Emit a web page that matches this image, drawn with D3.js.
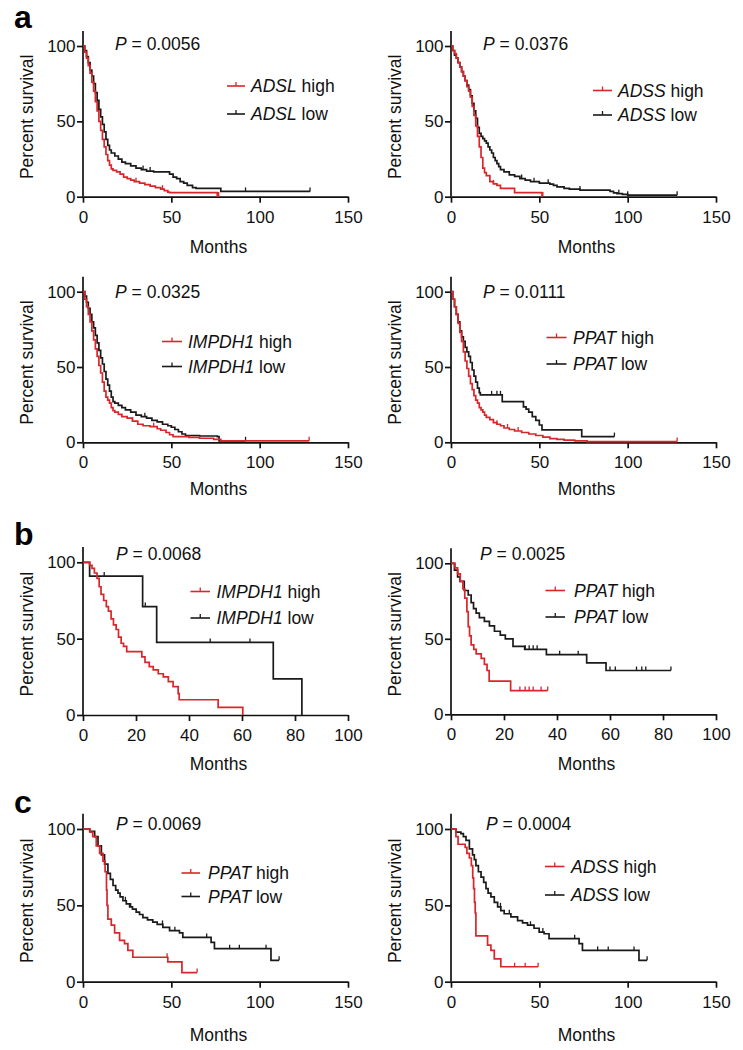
<!DOCTYPE html>
<html>
<head>
<meta charset="utf-8">
<script src="https://cdn.jsdelivr.net/npm/d3@7"></script>
<style>
  html, body { margin: 0; padding: 0; background: #fff; }
  svg { display: block; font-family: "Liberation Sans", Arial, sans-serif; }
</style>
</head>
<body>
<svg id="chart" width="743" height="1050"></svg>
<script>
// ---------------- DATA ----------------
const ticks150 = [0, 50, 100, 150];
const ticks100 = [0, 20, 40, 60, 80, 100];
const pctTicks = [0, 50, 100];
const pValues = ["0.0056", "0.0376", "0.0325", "0.0111", "0.0068", "0.0025", "0.0069", "0.0004"];
const genes = ["ADSL", "ADSS", "IMPDH1", "PPAT", "IMPDH1", "PPAT", "PPAT", "ADSS"];
const panelLetters = ["a", "b", "c"];

// Kaplan-Meier step points [month, percent survival]; last point = end of follow-up
const adslHigh = [[0,100],[1,96],[2,92],[3,87],[4,82],[5,76],[6,70],[7,63],[8,57],[9,50],[10,44],[11,38],[12,33],[13,28],[14,24],[15,21],[16,18.5],[17,17.5],[19,16.5],[21,15],[23,13],[25,12],[27,11],[29,10],[32,9],[35,8],[38,7],[41,6],[44,5],[46,4],[48,3],[49,2.7],[76,0.4],[76.8,0.4]];
const adslLow = [[0,100],[1,97],[2,93],[3,89],[4,84],[5,80],[6,75],[7,69],[8,64],[9,58],[10,53],[11,48],[12,43],[13,38],[14,34],[15,31],[16,29],[18,27],[20,25],[22,23],[24,22],[27,20.5],[30,19],[33,18],[36,17],[40,16.5],[49,15],[51,13],[53,12],[55,10],[57,9],[59,7.5],[62,6],[64,5.5],[78,3.5],[128.5,3.5]];
const adssHigh = [[0,100],[1,97],[2,95],[3,92],[4,89],[5,86],[6,83],[7,80],[8,77],[9,73],[10,70],[11,66],[12,60],[13,54],[14,47],[15,40],[16,33],[17,26],[18,19],[19,16],[20,14],[22,10],[24,8.5],[26,7.5],[28,5.5],[36,2.7],[51.5,0.5],[52,0.5]];
const adssLow = [[0,100],[1,97],[2,94],[3,92],[4,89],[5,86],[6,83],[7,80],[8,77],[9,74],[10,71],[11,67],[12,62],[13,57],[14,52],[15,46],[16,42],[17,40],[18,38.5],[19,37],[20,35.5],[21,33],[22,31],[23,29],[24,26],[25,24],[26,22],[27,20],[28,18],[30,16.5],[33,14.5],[36,13.5],[39,12],[42,11],[45,10],[50,9],[56,8.4],[58,7.5],[60,6.5],[64,5.5],[67,5],[73,4.4],[90,3.5],[92,2.5],[94,2],[97,1.5],[100,1],[128,1]];
const impdhHighA = [[0,100],[1,95],[2,90],[3,85],[4,80],[5,74],[6,68],[7,62],[8,57],[9,51],[10,46],[11,40],[12,34],[13,30],[14,28],[15,26],[16,23],[17,21],[18,20],[20,18.5],[22,17],[25,16],[28,14],[31,12],[34,11],[38,10.4],[42,9],[44,8],[47,6.5],[49,5],[51,3.8],[60,3.3],[66,2.7],[74,2],[78,1],[128,1]];
const impdhLowA = [[0,100],[1,97],[2,93],[3,89],[4,85],[5,80],[6,76],[7,71],[8,66],[9,61],[10,56],[11,52],[12,47],[13,42],[14,38],[15,34],[16,30],[17,27],[18,26],[20,24.5],[22,23],[24,21.5],[27,20],[30,18],[33,17],[36,16],[39,14.5],[42,13.5],[45,12],[48,11],[50,10],[52,8.5],[54,7],[56,5.5],[58,4.5],[66,4.2],[76,3.8],[77,1],[92,1]];
const ppatHighA = [[0,100],[1,95],[2,90],[3,85],[4,79],[5,73],[6,67],[7,60],[8,54],[9,49],[10,44],[11,39],[12,35],[13,31],[14,28],[15,26],[16,23],[17,21.5],[18,20],[19,18],[20,16.5],[22,15],[24,13],[26,12],[28,11],[30,9.5],[33,8.5],[36,7.5],[40,6.5],[44,5.5],[48,4.5],[52,3.5],[56,2.5],[60,2],[64,1.5],[70,1],[77,0.5],[128,0.5]];
const ppatLowA = [[0,100],[1,95],[2,90],[3,85],[4,80],[5,74],[6,70],[7,67],[8,63],[9,60],[10,57],[11,53],[12,48],[13,44],[14,40],[15,36],[16,33],[16.6,31.5],[29,27],[41,23.5],[42.5,22],[44,20],[46,17],[48,14.5],[50,11.5],[51.5,8.3],[74,3.8],[92.5,3.8]];
const impdhHighB = [[0,100],[2.5,98],[3.4,96],[4.3,93],[5.3,89.5],[6.1,84],[6.8,79],[7.8,75],[8.8,71],[9.6,68],[10.6,63],[11.5,59],[12.5,56],[13.4,51],[14.4,47],[15.3,45],[16.5,41.5],[22.2,38],[23.4,34.5],[25,31.7],[26.5,29.5],[28.4,27],[30.3,25],[32.2,21.8],[34,18.6],[35.9,14],[36.3,10],[51,5],[60.3,0]];
const impdhLowB = [[0,100],[2.5,91],[22.5,71],[27.8,47.5],[71.8,23.6],[82.6,0]];
const ppatHighB = [[0,100],[1.5,97],[2.5,93],[3.5,88],[4.5,83],[5.2,77],[6,68],[6.5,58],[7,52],[7.6,46],[8.6,43],[9.5,40],[11.4,37],[12.6,33],[13.6,29],[14.4,22],[22.5,15.7],[36.5,15.7]];
const ppatLowB = [[0,100],[1.3,95.5],[2.5,91],[3.4,88],[5,82],[6.5,79],[7.6,74],[8.5,70],[9.5,67],[10.7,64],[12.6,61.5],[14.5,58.5],[16.4,55],[18.6,52.5],[20.5,50],[23.4,45],[27.8,43],[36,39.5],[51.2,34],[58.5,29],[83,29]];
const ppatHighC = [[0,100],[4,98],[5.5,95],[7.5,89],[9.4,84],[11.3,79],[12.5,72],[13.3,60],[13.6,50],[14.1,41],[16,37],[17.9,32],[20.7,27],[23.5,25],[25.4,20.5],[28.2,16],[48,13],[56,6],[64.6,6]];
const ppatLowC = [[0,100],[3.8,98.5],[6.6,95],[8.5,89],[10.4,83],[12.2,77],[14.1,71],[15.5,67],[17,63],[18.5,60],[19.8,58],[21,55.5],[22.6,53],[24.5,51],[26.4,49],[28,47.5],[30.1,45.5],[32,44],[33.9,42],[36.5,40.5],[39.5,39],[42,37.5],[45.2,35.6],[49,33.4],[54.6,32],[56.5,29],[72.5,25.8],[74.4,21.6],[106.4,14],[111,14]];
const adssHighC = [[0,100],[2.8,95],[4,90],[8,88],[9,84],[10.4,81],[11.5,76],[12.3,68],[12.8,61],[13.3,52],[13.7,45],[14.1,30],[20.7,24],[22.6,20.5],[24.5,15],[28.2,9.8],[49.3,9.8]];
const adssLowC = [[0,100],[2.8,98],[5.6,97],[7,95],[8.5,92.5],[10.4,87],[12.2,83],[13.2,80],[14.1,76],[15.5,72],[17,68.5],[18.5,65],[19.8,61],[21,58],[22.6,55.5],[24.5,52],[26.4,49],[28.2,46.5],[30.1,44.5],[33.9,42.4],[37.7,40],[40.5,38.5],[43.3,37],[47,35],[49.9,32.5],[52.7,31.4],[55.5,28.2],[72.5,25],[74.4,20.5],[106.4,14],[111,14]];

// censored observation times (months)
const censorAdslHigh = [30, 45, 76.8];
const censorAdslLow = [34, 38, 92, 128.5];
const censorAdssHigh = [24, 52];
const censorAdssLow = [40, 47, 55, 73, 95, 100, 128];
const censorImpdhHighA = [28, 40, 128];
const censorImpdhLowA = [35, 92];
const censorPpatHighA = [26, 32, 38, 128];
const censorPpatLowA = [23, 26, 28, 92.5];
const censorImpdhHighB = [];
const censorImpdhLowB = [8, 23.5, 48, 63];
const censorPpatHighB = [26, 28, 29.5, 31, 34, 36.5];
const censorPpatLowB = [28, 29.5, 31, 32.5, 41, 48, 60, 62, 70, 72, 73.5, 83];
const censorPpatHighC = [47.6, 64.6];
const censorPpatLowC = [24, 27, 45, 52, 70, 83, 88.5, 103.6, 111];
const censorAdssHighC = [36, 42, 49.3];
const censorAdssLowC = [28, 33, 45, 52, 70, 83, 89, 103.6, 111];

// ---------------- LAYOUT ----------------
const RED = "#d8262b", BLACK = "#1a1a1a";
const FONT = "\"Liberation Sans\", Arial, sans-serif";
const FS = 17.5, TFS = 17;
const L = { x0: 83, x1: 348 }, R = { x0: 451, x1: 716 };

const panels = [
  { col: L, y100: 46,    y0: 196.7, xmax: 150, xt: ticks150, p: pValues[0], gene: genes[0], hi: adslHigh,   lo: adslLow,    chi: censorAdslHigh, clo: censorAdslLow,
    pPos: [115, 49.5], leg: [227, 245, 251, 86, 114], monthsY: 253 },
  { col: R, y100: 46,    y0: 196.7, xmax: 150, xt: ticks150, p: pValues[1], gene: genes[1], hi: adssHigh,   lo: adssLow,    chi: censorAdssHigh, clo: censorAdssLow,
    pPos: [483, 49.5], leg: [593, 612, 618, 90.5, 115], monthsY: 253 },
  { col: L, y100: 291.7, y0: 442.3, xmax: 150, xt: ticks150, p: pValues[2], gene: genes[2], hi: impdhHighA, lo: impdhLowA,  chi: censorImpdhHighA, clo: censorImpdhLowA,
    pPos: [115, 298], leg: [162, 182, 188, 341.5, 366.5], monthsY: 494.5 },
  { col: R, y100: 291.7, y0: 442.3, xmax: 150, xt: ticks150, p: pValues[3], gene: genes[3], hi: ppatHighA,  lo: ppatLowA,   chi: censorPpatHighA, clo: censorPpatLowA,
    pPos: [483, 298], leg: [546.5, 566.5, 573, 337.5, 364], monthsY: 494.5 },
  { col: L, y100: 562.3, y0: 715,   xmax: 100, xt: ticks100, p: pValues[4], gene: genes[4], hi: impdhHighB, lo: impdhLowB,  chi: censorImpdhHighB, clo: censorImpdhLowB,
    pPos: [116, 559.5], leg: [190.5, 210, 216.5, 591.5, 618], monthsY: 769.5 },
  { col: R, y100: 563.3, y0: 714.3, xmax: 100, xt: ticks100, p: pValues[5], gene: genes[5], hi: ppatHighB,  lo: ppatLowB,   chi: censorPpatHighB, clo: censorPpatLowB,
    pPos: [480, 559.5], leg: [545.5, 565, 574, 590.5, 617], monthsY: 769.5 },
  { col: L, y100: 829,   y0: 981.7, xmax: 150, xt: ticks150, p: pValues[6], gene: genes[6], hi: ppatHighC,  lo: ppatLowC,   chi: censorPpatHighC, clo: censorPpatLowC,
    pPos: [116, 829.5], leg: [181.5, 200, 208, 873, 896.5], monthsY: 1041 },
  { col: R, y100: 829,   y0: 981.7, xmax: 150, xt: ticks150, p: pValues[7], gene: genes[7], hi: adssHighC,  lo: adssLowC,   chi: censorAdssHighC, clo: censorAdssLowC,
    pPos: [486, 829.5], leg: [545, 564.5, 571, 866.5, 895], monthsY: 1041 }
];

const svg = d3.select("#chart");

// panel letters
const letterPos = [[14, 27.5], [14, 545], [14, 812.5]];
panelLetters.forEach((t, i) => {
  svg.append("text").attr("x", letterPos[i][0]).attr("y", letterPos[i][1])
    .attr("font-family", FONT).attr("font-weight", "bold").attr("font-size", 32).text(t);
});

function survAt(series, t) {
  let v = series[0][1];
  for (const d of series) { if (d[0] <= t) v = d[1]; else break; }
  return v;
}

panels.forEach(pn => {
  const x = d3.scaleLinear().domain([0, pn.xmax]).range([pn.col.x0, pn.col.x1]);
  const y = d3.scaleLinear().domain([0, 100]).range([pn.y0, pn.y100]);
  const yTop = y(110);

  const g = svg.append("g");

  // axes
  const xAxis = d3.axisBottom(x).tickValues(pn.xt).tickSize(6).tickSizeOuter(0).tickPadding(8);
  const gx = g.append("g").attr("transform", `translate(0,${pn.y0})`).call(xAxis);
  const yAxis = d3.axisLeft(y).tickValues(pctTicks).tickSize(6).tickSizeOuter(0).tickPadding(1.5);
  const gy = g.append("g").attr("transform", `translate(${pn.col.x0},0)`).call(yAxis);
  gy.select(".domain").attr("d", `M0,${pn.y0}V${yTop}`);
  [gx, gy].forEach(a => {
    a.selectAll(".domain").attr("stroke", "#111").attr("stroke-width", 1.7);
    a.selectAll(".tick line").attr("stroke", "#111").attr("stroke-width", 1.7);
    a.selectAll(".tick text").attr("font-family", FONT).attr("font-size", TFS).attr("fill", "#111");
  });

  // axis titles
  g.append("text").attr("x", (pn.col.x0 + pn.col.x1) / 2 + 3).attr("y", pn.monthsY)
    .attr("text-anchor", "middle").attr("font-family", FONT).attr("font-size", FS).attr("fill", "#111").text("Months");
  const ylx = pn.col.x0 - 50, yly = (pn.y0 + pn.y100) / 2 - 4.5;
  g.append("text").attr("transform", `translate(${ylx},${yly}) rotate(-90)`)
    .attr("text-anchor", "middle").attr("font-family", FONT).attr("font-size", FS).attr("fill", "#111").text("Percent survival");

  // curves
  const line = d3.line().x(d => x(d[0])).y(d => y(d[1])).curve(d3.curveStepAfter);
  const drawSeries = (data, cens, color) => {
    g.append("path").datum(data).attr("d", line).attr("fill", "none")
      .attr("stroke", color).attr("stroke-width", 1.7).attr("stroke-linejoin", "miter");
    g.selectAll(null).data(cens).enter().append("line")
      .attr("x1", d => x(d)).attr("x2", d => x(d))
      .attr("y1", d => y(survAt(data, d))).attr("y2", d => y(survAt(data, d)) - 4)
      .attr("stroke", color).attr("stroke-width", 1.3);
  };
  drawSeries(pn.lo, pn.clo, BLACK);
  drawSeries(pn.hi, pn.chi, RED);

  // P value
  const pt = g.append("text").attr("x", pn.pPos[0]).attr("y", pn.pPos[1])
    .attr("font-family", FONT).attr("font-size", FS).attr("fill", "#111");
  pt.append("tspan").attr("font-style", "italic").text("P");
  pt.append("tspan").text(" = " + pn.p);

  // legend
  const [lx0, lx1, tx, ry1, ry2] = pn.leg;
  [[RED, ry1, " high"], [BLACK, ry2, " low"]].forEach(([c, ry, lab]) => {
    g.append("line").attr("x1", lx0).attr("x2", lx1).attr("y1", ry).attr("y2", ry)
      .attr("stroke", c).attr("stroke-width", 1.6);
    g.append("line").attr("x1", (lx0 + lx1) / 2).attr("x2", (lx0 + lx1) / 2).attr("y1", ry).attr("y2", ry - 4)
      .attr("stroke", c).attr("stroke-width", 1.3);
    const t = g.append("text").attr("x", tx).attr("y", ry + 6)
      .attr("font-family", FONT).attr("font-size", FS).attr("fill", "#111");
    t.append("tspan").attr("font-style", "italic").text(pn.gene);
    t.append("tspan").text(lab);
  });
});
</script>
</body>
</html>
